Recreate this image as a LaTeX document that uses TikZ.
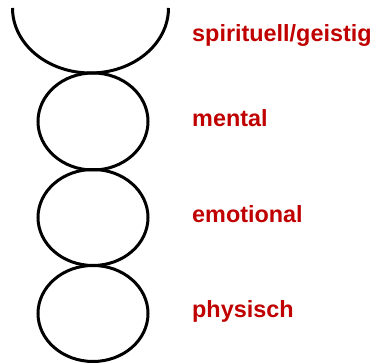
\documentclass[tikz,border=0pt]{standalone}
\usepackage{fontspec}
\setmainfont{Liberation Sans}
\definecolor{lblred}{RGB}{192,0,0}
\tikzset{
  ring/.style={line width=3pt, draw=black},
  lbl/.style={anchor=base west, inner sep=0pt, text=lblred, font=\fontsize{23.4}{27}\selectfont\bfseries}
}
\begin{document}
\begin{tikzpicture}[x=1pt,y=1pt]
\useasboundingbox (0,0) rectangle (381,363);
% top (cut) ellipse
\draw[ring] (12.5,355) arc[start angle=180, end angle=360, x radius=78, y radius=65];
% circles
\draw[ring] (93,241.5) ellipse[x radius=55, y radius=48.5];
\draw[ring] (93,145.5) ellipse[x radius=55, y radius=48];
\draw[ring] (93,49.5) ellipse[x radius=55, y radius=48];
% labels
\node[lbl] (sp) at (192,321) {spirituell/geistig};
\node[lbl] (me) at (192,236) {mental};
\node[lbl] (em) at (192,140) {emotional};
\node[lbl] (ph) at (192,45) {physisch};
\end{tikzpicture}
\end{document}
